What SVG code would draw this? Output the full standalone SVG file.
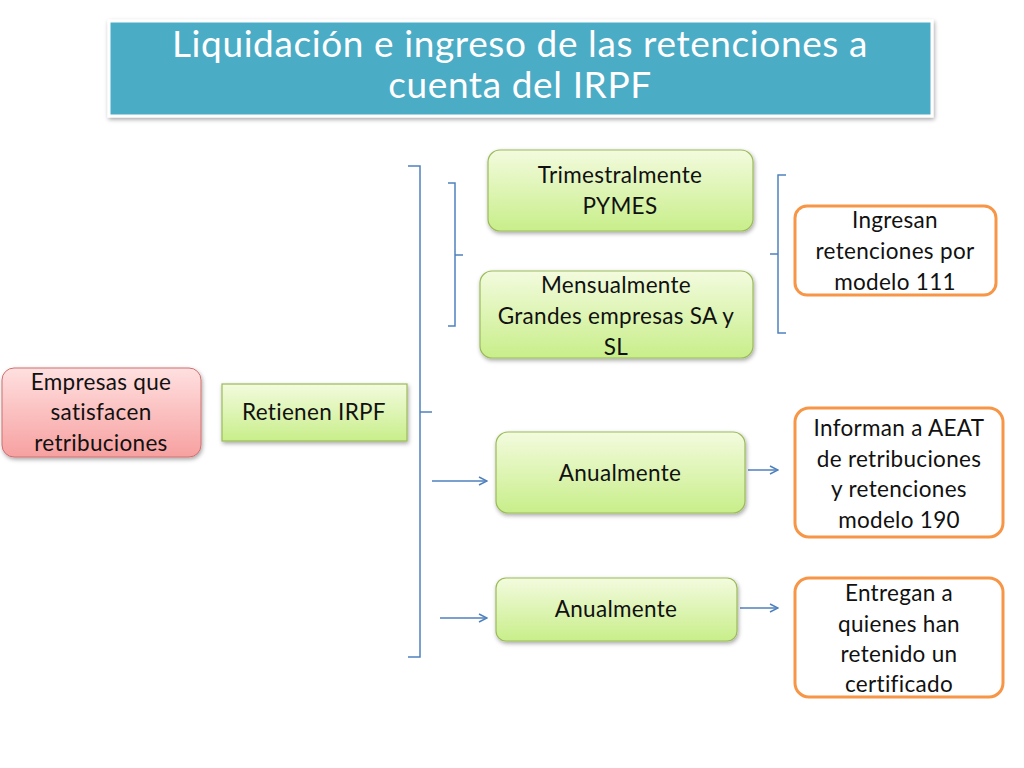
<svg xmlns="http://www.w3.org/2000/svg" width="1024" height="768" viewBox="0 0 1024 768">
<style>
text{font-family:Lato,"Open Sans",sans-serif;font-size:22.5px;fill:#111;text-anchor:middle;letter-spacing:0.3px}
.g{fill:url(#gg);stroke:#9BBB59;stroke-width:1.2}
.o{fill:#fff;stroke:#F79646;stroke-width:3}
.c{fill:none;stroke:#4F81BD;stroke-width:1.5}
</style>
<defs>
<linearGradient id="gg" x1="0" y1="0" x2="0" y2="1"><stop offset="0" stop-color="#F3FBDE"/><stop offset="1" stop-color="#C8EE8A"/></linearGradient>
<linearGradient id="rg" x1="0" y1="0" x2="0" y2="1"><stop offset="0" stop-color="#FFE0E0"/><stop offset="1" stop-color="#F7A0A0"/></linearGradient>
<filter id="sh" x="-10%" y="-10%" width="120%" height="130%"><feDropShadow dx="1" dy="2" stdDeviation="2" flood-opacity="0.35"/></filter>
<marker id="ar" markerWidth="10" markerHeight="10" refX="9" refY="5" orient="auto" markerUnits="userSpaceOnUse"><path d="M1,1 L9,5 L1,9" fill="none" stroke="#4F81BD" stroke-width="1.5"/></marker>
</defs>
<rect width="1024" height="768" fill="#fff"/>
<g id="title"><rect x="109" y="21" width="823" height="95" fill="#4BACC6" stroke="#fff" stroke-width="3" filter="url(#sh)"/>
<text x="520" y="57" style="font-size:37px;fill:#fff;letter-spacing:0.6px">Liquidación e ingreso de las retenciones a</text>
<text x="520" y="98" style="font-size:37px;fill:#fff;letter-spacing:0.6px">cuenta del IRPF</text></g>
<g id="connectors">
<path class="c" d="M408,166 H420 V657 H408 M420,412 H432"/>
<path class="c" d="M448,183 H455 V326 H448 M455,255 H463"/>
<path class="c" d="M786,175 H778 V333 H786 M778,254 H770"/>
<line class="c" x1="432" y1="481" x2="487" y2="481" marker-end="url(#ar)"/>
<line class="c" x1="440" y1="618" x2="487" y2="618" marker-end="url(#ar)"/>
<line class="c" x1="748" y1="470" x2="778" y2="470" marker-end="url(#ar)"/>
<line class="c" x1="740" y1="608" x2="778" y2="608" marker-end="url(#ar)"/>
</g>
<g id="empresas"><rect x="2" y="368" width="199" height="89" rx="12" fill="url(#rg)" stroke="#D07070" filter="url(#sh)"/>
<text x="101" y="390">Empresas que</text><text x="101" y="420">satisfacen</text><text x="101" y="451">retribuciones</text></g>
<g id="retienen"><rect class="g" x="222" y="384" width="185" height="57" filter="url(#sh)"/><text x="314" y="420">Retienen IRPF</text></g>
<g id="trimestral"><rect class="g" x="488" y="150" width="265" height="81" rx="12" filter="url(#sh)"/><text x="620" y="183">Trimestralmente</text><text x="620" y="214">PYMES</text></g>
<g id="mensual"><rect class="g" x="480" y="271" width="273" height="87" rx="12" filter="url(#sh)"/><text x="616" y="293">Mensualmente</text><text x="616" y="324">Grandes empresas SA y</text><text x="616" y="355">SL</text></g>
<g id="anual1"><rect class="g" x="496" y="432" width="249" height="81" rx="12" filter="url(#sh)"/><text x="620" y="481">Anualmente</text></g>
<g id="anual2"><rect class="g" x="496" y="578" width="241" height="63" rx="10" filter="url(#sh)"/><text x="616" y="617">Anualmente</text></g>
<g id="ingresan"><rect class="o" x="795" y="206" width="201" height="89" rx="12"/><text x="895" y="228">Ingresan</text><text x="895" y="259">retenciones por</text><text x="895" y="290">modelo 111</text></g>
<g id="informan"><rect class="o" x="795" y="408" width="208" height="129" rx="14"/><text x="899" y="436">Informan a AEAT</text><text x="899" y="467">de retribuciones</text><text x="899" y="497">y retenciones</text><text x="899" y="528">modelo 190</text></g>
<g id="entregan"><rect class="o" x="795" y="578" width="208" height="119" rx="14"/><text x="899" y="601">Entregan a</text><text x="899" y="632">quienes han</text><text x="899" y="662">retenido un</text><text x="899" y="692">certificado</text></g>
</svg>
